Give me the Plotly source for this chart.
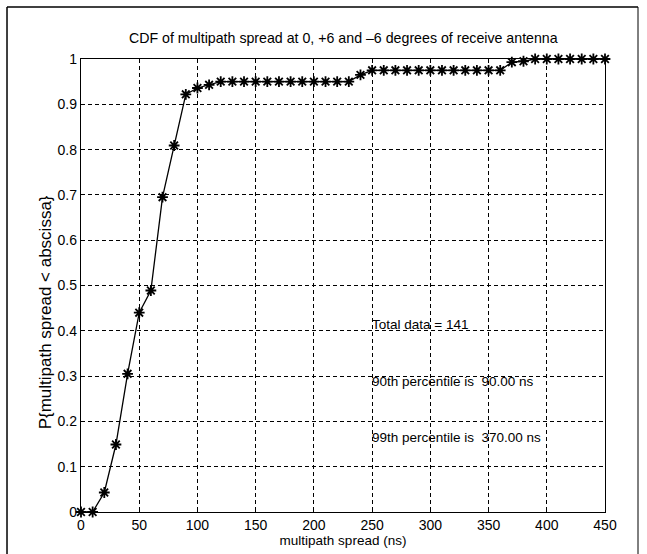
import plotly.graph_objects as go

# multipath spread (ns)
spread_ns = [0, 10, 20, 30, 40, 50, 60, 70, 80, 90,
             100, 110, 120, 130, 140, 150, 160, 170, 180, 190,
             200, 210, 220, 230, 240, 250, 260, 270, 280, 290,
             300, 310, 320, 330, 340, 350, 360, 370, 380, 390,
             400, 410, 420, 430, 440, 450]
# P{multipath spread < abscissa}
cdf = [0.0, 0.0, 0.043, 0.149, 0.305, 0.440, 0.489, 0.695, 0.809, 0.922,
       0.936, 0.943, 0.950, 0.950, 0.950, 0.950, 0.950, 0.950, 0.950, 0.950,
       0.950, 0.950, 0.950, 0.950, 0.965, 0.975, 0.975, 0.975, 0.975, 0.975,
       0.975, 0.975, 0.975, 0.975, 0.975, 0.975, 0.975, 0.993, 0.995, 1.0,
       1.0, 1.0, 1.0, 1.0, 1.0, 1.0]

x_ticks = [0, 50, 100, 150, 200, 250, 300, 350, 400, 450]
y_ticks = [0, 0.1, 0.2, 0.3, 0.4, 0.5, 0.6, 0.7, 0.8, 0.9, 1]
y_tick_text = ["0", "0.1", "0.2", "0.3", "0.4", "0.5", "0.6", "0.7", "0.8", "0.9", "1"]

info_lines = ["Total data = 141",
              "90th percentile is  90.00 ns",
              "99th percentile is  370.00 ns"]
info_y = [0.413, 0.289, 0.165]

FONT = "Liberation Sans, Arial, sans-serif"

fig = go.Figure()
fig.add_trace(go.Scatter(
    x=spread_ns, y=cdf, mode="lines+markers",
    line=dict(color="black", width=1.3),
    marker=dict(symbol="asterisk-open", size=9, color="black",
                line=dict(color="black", width=1.8)),
    showlegend=False, cliponaxis=False,
))

for t, yv in zip(info_lines, info_y):
    fig.add_annotation(x=248, y=yv, xref="x", yref="y", text=t,
                       showarrow=False, xanchor="left", yanchor="middle",
                       font=dict(family=FONT, size=13.5, color="black"))

fig.add_annotation(x=0.5, y=1.0, xref="paper", yref="paper", yshift=21,
                   text="CDF of multipath spread at 0, +6 and \u20136 degrees of receive antenna",
                   showarrow=False, xanchor="center", yanchor="middle",
                   font=dict(family=FONT, size=14.2, color="black"))

fig.add_annotation(x=-0.068, y=0.4415, xref="paper", yref="paper",
                   text="P{multipath spread < abscissa}", textangle=-90,
                   showarrow=False, xanchor="center", yanchor="middle",
                   font=dict(family=FONT, size=17, color="black"))

# outer frame of the scanned figure
fig.add_shape(type="line", xref="paper", yref="paper",
              x0=-0.1412, x1=-0.1412, y0=-0.12, y1=1.1148,
              line=dict(color="black", width=1.5))
fig.add_shape(type="line", xref="paper", yref="paper",
              x0=-0.1412, x1=1.063, y0=1.1148, y1=1.1148,
              line=dict(color="black", width=1.5))
fig.add_shape(type="line", xref="paper", yref="paper",
              x0=1.063, x1=1.063, y0=-0.12, y1=1.1148,
              line=dict(color="black", width=1.0))

fig.update_xaxes(range=[0, 450], tickvals=x_ticks,
                 showgrid=True, gridcolor="black", gridwidth=1, griddash="4px,3px",
                 showline=True, linecolor="black", linewidth=1.3, mirror=True,
                 ticks="inside", ticklen=4, tickcolor="black",
                 zeroline=False,
                 tickfont=dict(family=FONT, size=14, color="black"),
                 title=dict(text="multipath spread (ns)", standoff=1,
                            font=dict(family=FONT, size=13.5, color="black")))
fig.update_yaxes(range=[0, 1], tickvals=y_ticks, ticktext=y_tick_text,
                 showgrid=True, gridcolor="black", gridwidth=1, griddash="4px,3px",
                 showline=True, linecolor="black", linewidth=1.3, mirror=True,
                 ticks="inside", ticklen=4, tickcolor="black",
                 zeroline=False,
                 tickfont=dict(family=FONT, size=14, color="black"))

fig.update_layout(width=647, height=554,
                  margin=dict(l=81, r=42, t=59, b=42),
                  paper_bgcolor="white", plot_bgcolor="white",
                  font=dict(family=FONT, color="black"))

fig.write_html("out.html")
